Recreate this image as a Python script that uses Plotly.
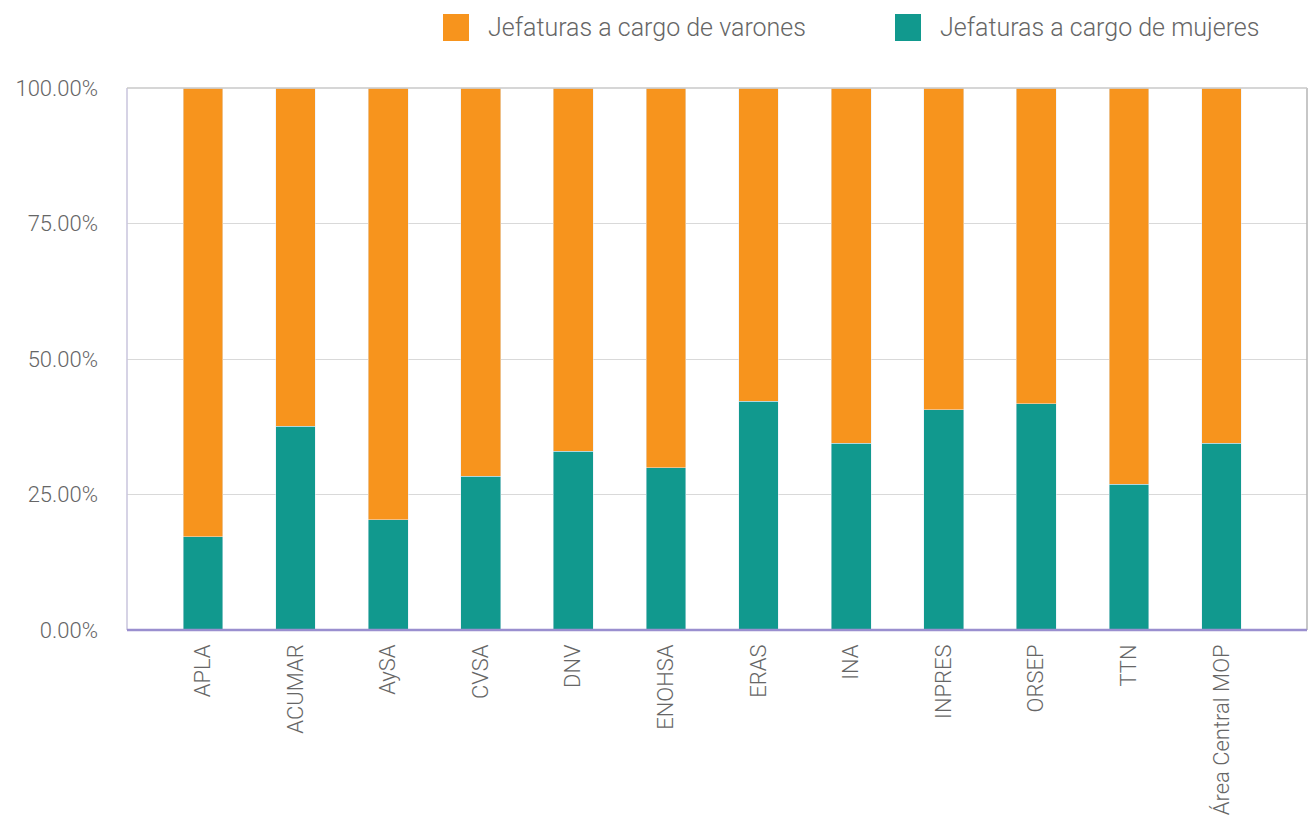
import plotly.graph_objects as go

categories = ["APLA", "ACUMAR", "AySA", "CVSA", "DNV", "ENOHSA", "ERAS", "INA",
              "INPRES", "ORSEP", "TTN", "Área Central MOP"]
mujeres = [0.172, 0.376, 0.203, 0.284, 0.330, 0.299, 0.422, 0.345, 0.406, 0.417, 0.269, 0.345]
varones = [0.828, 0.624, 0.797, 0.716, 0.670, 0.701, 0.578, 0.655, 0.594, 0.583, 0.731, 0.655]
y_ticks = [0, 0.25, 0.5, 0.75, 1.0]
legend_names = ["Jefaturas a cargo de varones", "Jefaturas a cargo de mujeres"]

ORANGE = "#F7941D"
TEAL = "#11998E"
TXT = "#666666"
FONT = "Roboto"

# page has an 8px body margin: the figure starts at (8, 8) in the window
OFF = 8
W, H = 1316 - 2 * OFF, 828 - 2 * OFF
ML, MR, MT = 127 - OFF, 1, 88 - OFF
PH = 542
MB = H - MT - PH
PW = W - ML - MR
STEP = 92.6  # pixel spacing between categories
X0 = -0.82
X1 = X0 + PW / STEP


def px_x(p):
    return (p - OFF - ML) / PW


def px_y(p):
    return (H - MB - (p - OFF)) / PH


fig = go.Figure()
fig.add_trace(go.Bar(x=categories, y=mujeres, marker_color=TEAL, width=0.43,
                     name=legend_names[1], showlegend=False))
fig.add_trace(go.Bar(x=categories, y=varones, marker_color=ORANGE, width=0.43,
                     name=legend_names[0], showlegend=False))

shapes = [
    dict(type="line", xref="paper", yref="paper", x0=0, x1=0, y0=0, y1=1,
         line=dict(color="#c9c4dd", width=1.5)),
    dict(type="line", xref="paper", yref="paper", x0=1, x1=1, y0=0, y1=1,
         line=dict(color="#b5b5b5", width=1.5)),
    dict(type="line", xref="paper", yref="paper", x0=0, x1=1, y0=1, y1=1,
         line=dict(color="#c8c8c8", width=1.5)),
    dict(type="line", xref="paper", yref="paper", x0=0, x1=1, y0=0, y1=0,
         line=dict(color="#9a8fcf", width=2.5)),
]
annotations = []
for name, color, sx in zip(legend_names, [ORANGE, TEAL], [443, 895]):
    shapes.append(dict(type="rect", xref="paper", yref="paper",
                       x0=px_x(sx), x1=px_x(sx + 26), y0=px_y(41), y1=px_y(14),
                       fillcolor=color, line=dict(width=0)))
    annotations.append(dict(text=name, xref="paper", yref="paper", x=px_x(sx + 43),
                            y=px_y(28), xanchor="left", yanchor="middle", showarrow=False,
                            font=dict(family=FONT, size=25, color=TXT, weight=300)))

fig.update_layout(
    barmode="stack",
    width=W, height=H,
    margin=dict(l=ML, r=MR, t=MT, b=MB),
    plot_bgcolor="white", paper_bgcolor="white",
    showlegend=False,
    font=dict(family=FONT, color=TXT, size=21, weight=300),
    xaxis=dict(type="category", range=[X0, X1], tickangle=-90, showgrid=False,
               showline=False, ticks="", automargin=False,
               tickfont=dict(size=22, color=TXT, weight=300), ticklabelstandoff=9),
    yaxis=dict(range=[0, 1.0], tickvals=y_ticks, tickformat=".2%", showgrid=True,
               gridcolor="#d9d9d9", gridwidth=1, zeroline=False, showline=False, ticks="",
               automargin=False,
               tickfont=dict(size=22, color=TXT, weight=300), ticklabelstandoff=28),
    shapes=shapes,
    annotations=annotations,
)

fig.write_html("out.html")
